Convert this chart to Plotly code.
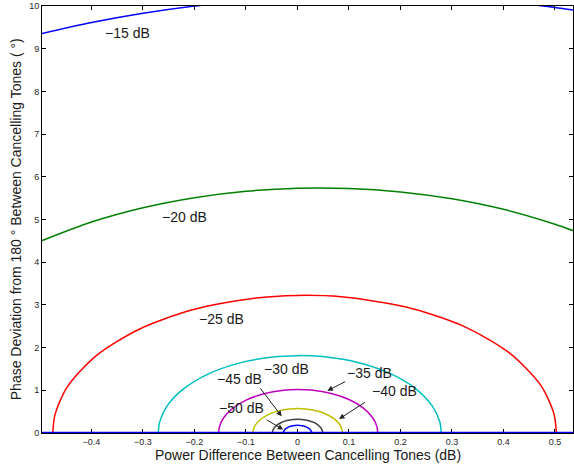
import plotly.graph_objects as go

# ---------------- data ----------------
level_labels = ["\u221215 dB", "\u221220 dB", "\u221225 dB", "\u221230 dB",
                "\u221235 dB", "\u221240 dB", "\u221245 dB", "\u221250 dB"]

x_m15 = [-0.5, -0.4, -0.3, -0.2, -0.1, 0.0, 0.1, 0.2, 0.3, 0.4, 0.5, 0.54]
y_m15 = [9.344, 9.612, 9.829, 9.998, 10.122, 10.202, 10.240, 10.236, 10.189, 10.100, 9.967, 9.900]

x_m20 = [-0.5, -0.4, -0.3, -0.2, -0.1, 0.0, 0.1, 0.2, 0.3, 0.4, 0.5, 0.54]
y_m20 = [4.486, 4.940, 5.274, 5.510, 5.661, 5.732, 5.727, 5.646, 5.485, 5.238, 4.889, 4.717]

x_m25 = [-0.4752, -0.4707, -0.4473, -0.3912, -0.3084, -0.2040, -0.0844, 0.0, 0.0852, 0.2089, 0.3198, 0.4096, 0.4716, 0.4977, 0.5027]
y_m25 = [0.0, 0.4364, 1.0740, 1.8069, 2.4247, 2.8860, 3.1576, 3.2220, 3.1886, 2.9554, 2.5140, 1.8921, 1.1323, 0.4614, 0.0]

x_m30 = [-0.2704, -0.2678, -0.2544, -0.2221, -0.1748, -0.1153, -0.0476, 0.0, 0.0478, 0.1169, 0.1784, 0.2280, 0.2620, 0.2764, 0.2791]
y_m30 = [0.0, 0.2483, 0.6107, 1.0260, 1.3741, 1.6312, 1.7795, 1.8119, 1.7893, 1.6532, 1.4023, 1.0530, 0.6291, 0.2562, 0.0]

x_m35 = [-0.1531, -0.1516, -0.1440, -0.1256, -0.0987, -0.0650, -0.0268, 0.0, 0.0269, 0.0655, 0.0999, 0.1275, 0.1464, 0.1543, 0.1559]
y_m35 = [0.0, 0.1406, 0.3456, 0.5802, 0.7761, 0.9200, 1.0019, 1.0189, 1.0050, 0.9269, 0.7850, 0.5887, 0.3514, 0.1431, 0.0]

x_m40 = [-0.0864, -0.0856, -0.0812, -0.0709, -0.0557, -0.0366, -0.0151, 0.0, 0.0151, 0.0368, 0.0560, 0.0714, 0.0820, 0.0864, 0.0873]
y_m40 = [0.0, 0.0793, 0.1951, 0.3273, 0.4375, 0.5182, 0.5638, 0.5730, 0.5647, 0.5204, 0.4403, 0.3300, 0.1969, 0.0801, 0.0]

x_m45 = [-0.0487, -0.0482, -0.0458, -0.0399, -0.0313, -0.0206, -0.0085, 0.0, 0.0085, 0.0207, 0.0315, 0.0401, 0.0460, 0.0485, 0.0490]
y_m45 = [0.0, 0.0447, 0.1099, 0.1844, 0.2464, 0.2917, 0.3172, 0.3222, 0.3175, 0.2924, 0.2473, 0.1852, 0.1105, 0.0450, 0.0]

x_m50 = [-0.0274, -0.0272, -0.0258, -0.0225, -0.0176, -0.0116, -0.0048, 0.0, 0.0048, 0.0116, 0.0177, 0.0225, 0.0258, 0.0272, 0.0275]
y_m50 = [0.0, 0.0252, 0.0619, 0.1038, 0.1387, 0.1641, 0.1784, 0.1812, 0.1785, 0.1643, 0.1389, 0.1041, 0.0621, 0.0253, 0.0]

x_ticks = [-0.4, -0.3, -0.2, -0.1, 0.0, 0.1, 0.2, 0.3, 0.4, 0.5]
x_ticklabels = ["\u22120.4", "\u22120.3", "\u22120.2", "\u22120.1", "0", "0.1", "0.2", "0.3", "0.4", "0.5"]
y_ticks = [0, 1, 2, 3, 4, 5, 6, 7, 8, 9, 10]

# ---------------- styling / layout ----------------
FONT = "Liberation Sans, Arial, Helvetica, sans-serif"
colors = ["#0000ff", "#008000", "#ff0000", "#00bfbf", "#bf00bf", "#bfbf00", "#404040", "#0000ff"]
curves = [(x_m15, y_m15), (x_m20, y_m20), (x_m25, y_m25), (x_m30, y_m30),
          (x_m35, y_m35), (x_m40, y_m40), (x_m45, y_m45), (x_m50, y_m50)]

fig = go.Figure()
for (xs, ys), c, name in zip(curves, colors, level_labels):
    fig.add_trace(go.Scatter(x=xs, y=ys, mode="lines", name=name,
                             line=dict(color=c, width=1.5, shape="spline", smoothing=0.8),
                             hoverinfo="skip", showlegend=False))

# text labels (center positions) and arrows (head, tail)
text_pos = [(-0.331, 9.36), (-0.219, 5.06), (-0.1485, 2.67), (-0.022, 1.50),
            (0.139, 1.40), (0.189, 0.99), (-0.112, 1.26), (-0.108, 0.585)]
arrows = {4: ((0.058, 0.99), (0.0955, 1.22)),
          5: ((0.0806, 0.33), (0.134, 0.74)),
          6: ((-0.0307, 0.39), (-0.0742, 1.08)),
          7: ((-0.0276, 0.08), (-0.063, 0.33))}

annotations = []
for i, (lab, (tx, ty)) in enumerate(zip(level_labels, text_pos)):
    annotations.append(dict(x=tx, y=ty, xref="x", yref="y", text=lab, showarrow=False,
                            xanchor="center", yanchor="middle",
                            font=dict(family=FONT, size=14, color="#1a1a1a")))
for i, ((hx, hy), (tx, ty)) in arrows.items():
    annotations.append(dict(x=hx, y=hy, ax=tx, ay=ty, xref="x", yref="y", axref="x", ayref="y",
                            text="", showarrow=True, arrowhead=2, arrowsize=1.1, arrowwidth=1,
                            arrowcolor="#222222", standoff=0, startstandoff=0))

# axis titles
annotations.append(dict(x=0.5, y=-0.052, xref="paper", yref="paper",
                        text="Power Difference Between Cancelling Tones (dB)", showarrow=False,
                        xanchor="center", yanchor="middle",
                        font=dict(family=FONT, size=14, color="#1a1a1a")))
annotations.append(dict(x=-0.0495, y=0.5, xref="paper", yref="paper", textangle=-90,
                        text="Phase Deviation from 180 \u00b0 Between Cancelling Tones ( \u00b0)",
                        showarrow=False, xanchor="center", yanchor="middle",
                        font=dict(family=FONT, size=14, color="#1a1a1a")))

fig.update_layout(
    width=574, height=470,
    margin=dict(l=42, r=1, t=6, b=37),
    paper_bgcolor="white", plot_bgcolor="white",
    annotations=annotations,
    shapes=[dict(type="line", xref="paper", yref="y", x0=0, x1=1, y0=0, y1=0,
                 line=dict(color="#0000ff", width=2.5), layer="above")],
)
fig.update_xaxes(range=[-0.4961, 0.535], tickvals=x_ticks, ticktext=x_ticklabels,
                 ticks="inside", ticklen=4, tickcolor="black", showline=True, linecolor="black",
                 linewidth=1, mirror="ticks", showgrid=False, zeroline=False,
                 tickfont=dict(family=FONT, size=9, color="#262626"))
fig.update_yaxes(range=[0, 10], tickvals=y_ticks,
                 ticks="inside", ticklen=4, tickcolor="black", showline=True, linecolor="black",
                 linewidth=1, mirror="ticks", showgrid=False, zeroline=False,
                 tickfont=dict(family=FONT, size=9, color="#262626"))

fig.write_html("out.html",
               config={"displayModeBar": False},
               post_script="document.body.style.margin='0';document.body.style.padding='0';"
                           "document.documentElement.style.overflow='hidden';")
